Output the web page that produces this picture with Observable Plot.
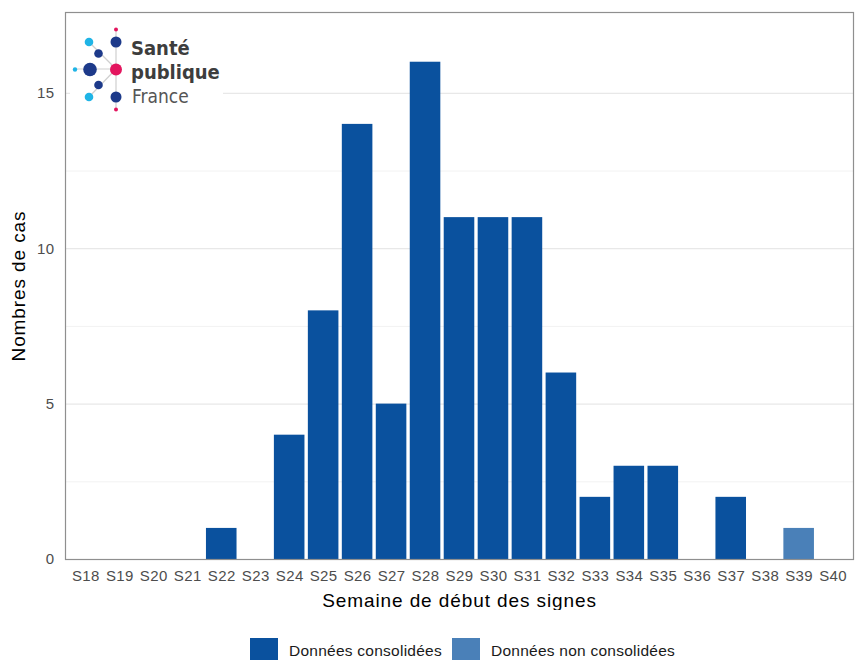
<!DOCTYPE html>
<html>
<head>
<meta charset="utf-8">
<script src="https://cdn.jsdelivr.net/npm/d3@7"></script>
<script src="https://cdn.jsdelivr.net/npm/@observablehq/plot@0.6"></script>
<style>
  html, body { margin: 0; padding: 0; background: #fff; }
  #wrap { position: relative; width: 866px; height: 660px; overflow: hidden; font-family: "Liberation Sans", Arial, sans-serif; }
  #logo { position: absolute; left: 0; top: 0; pointer-events: none; }
  #logo text { font-family: "DejaVu Sans Condensed", "DejaVu Sans", sans-serif; font-stretch: condensed; }
  #legend { position: absolute; left: 250px; top: 638px; display: flex; align-items: flex-start; font-size: 15.5px; color: #1a1a1a; }
  #legend .key { width: 28px; height: 24px; margin-right: 11px; }
  #legend .item { display: flex; align-items: flex-start; margin-right: 10px; }
  #legend .lab { line-height: 26px; letter-spacing: 0.25px; }
  g[aria-label="x-axis label"] text, g[aria-label="y-axis label"] text { font-size: 19px; fill: #000; letter-spacing: 0.9px; }
  g[aria-label="x-axis tick label"] text, g[aria-label="y-axis tick label"] text { letter-spacing: 0.4px; }
</style>
</head>
<body>
<div id="wrap">
  <div id="chart"></div>
  <svg id="logo" width="240" height="125" viewBox="0 0 240 125">
    <rect x="70" y="20" width="153" height="95" fill="#fff"/>
    <g stroke="#cfcfcf" stroke-width="1.2">
      <line x1="116" y1="29" x2="116" y2="109"/>
      <line x1="75" y1="69" x2="116" y2="69"/>
      <line x1="89" y1="42" x2="116" y2="69"/>
      <line x1="89" y1="97" x2="116" y2="69"/>
    </g>
    <circle cx="116" cy="29.5" r="2" fill="#e3155e"/>
    <circle cx="116" cy="42" r="5.5" fill="#1d3a8a"/>
    <circle cx="89" cy="42" r="4.3" fill="#1fb4e6"/>
    <circle cx="98.5" cy="53.5" r="4.3" fill="#1d3a8a"/>
    <circle cx="75" cy="69.5" r="2.2" fill="#1fb4e6"/>
    <circle cx="90" cy="69.5" r="6.8" fill="#1d3a8a"/>
    <circle cx="116" cy="69.5" r="6" fill="#e3155e"/>
    <circle cx="98.5" cy="85" r="4.3" fill="#1d3a8a"/>
    <circle cx="89" cy="97" r="4.3" fill="#1fb4e6"/>
    <circle cx="116" cy="97" r="5.5" fill="#1d3a8a"/>
    <circle cx="116" cy="109.5" r="2" fill="#e3155e"/>
    <text x="131" y="55" font-weight="700" font-size="20" fill="#3d3d3d">Santé</text>
    <text x="131" y="79" font-weight="700" font-size="20" fill="#3d3d3d">publique</text>
    <text x="132" y="103" font-weight="400" font-size="19" fill="#555">France</text>
  </svg>
  <div id="legend"></div>
</div>
<script>
// ---- data ----
const weeks = ["S18","S19","S20","S21","S22","S23","S24","S25","S26","S27","S28","S29","S30","S31","S32","S33","S34","S35","S36","S37","S38","S39","S40"];
const consolidated =    [0,0,0,0,1,0,4,8,14,5,16,11,11,11,6,2,3,3,0,2,0,0,0];
const nonConsolidated = [0,0,0,0,0,0,0,0,0,0,0,0,0,0,0,0,0,0,0,0,0,1,0];
const statuses = ["Données consolidées", "Données non consolidées"];
const statusColors = ["#0a519e", "#4a80b8"];
const majorTicks = [0, 5, 10, 15];
const minorTicks = [2.5, 7.5, 12.5];
const xTitle = "Semaine de début des signes";
const yTitle = "Nombres de cas";

const rows = [];
weeks.forEach((w, i) => {
  if (consolidated[i] > 0) rows.push({week: w, value: consolidated[i], status: statuses[0]});
  if (nonConsolidated[i] > 0) rows.push({week: w, value: nonConsolidated[i], status: statuses[1]});
});
const yMax = d3.max(rows, d => d.value) * 1.1;

const chart = Plot.plot({
  width: 866,
  height: 610,
  marginLeft: 65,
  marginRight: 13,
  marginTop: 12,
  marginBottom: 51,
  style: {fontFamily: "Liberation Sans, Arial, sans-serif", background: "#fff"},
  x: {type: "band", domain: weeks, paddingInner: 0.1, paddingOuter: 0.15, round: false},
  y: {domain: [0, yMax]},
  color: {domain: statuses, range: statusColors},
  marks: [
    Plot.ruleY(minorTicks, {stroke: "#f2f2f2", strokeWidth: 1}),
    Plot.ruleY(majorTicks, {stroke: "#e8e8e8", strokeWidth: 1.2}),
    Plot.barY(rows, {x: "week", y: "value", fill: "status"}),
    Plot.frame({stroke: "#8f8f8f", strokeWidth: 1.2}),
    Plot.axisX({tickSize: 0, tickPadding: 11, fontSize: 15, fill: "#4d4d4d", label: xTitle, labelAnchor: "center", labelArrow: "none", labelOffset: 47}),
    Plot.axisY({ticks: majorTicks, tickSize: 0, tickPadding: 11, fontSize: 15, fill: "#4d4d4d", label: yTitle, labelAnchor: "center", labelArrow: "none", labelOffset: 54})
  ]
});
document.getElementById("chart").appendChild(chart);

const legend = document.getElementById("legend");
statuses.forEach((s, i) => {
  const item = document.createElement("div");
  item.className = "item";
  const key = document.createElement("div");
  key.className = "key";
  key.style.background = statusColors[i];
  const lab = document.createElement("div");
  lab.className = "lab";
  lab.textContent = s;
  item.appendChild(key);
  item.appendChild(lab);
  legend.appendChild(item);
});
</script>
</body>
</html>
